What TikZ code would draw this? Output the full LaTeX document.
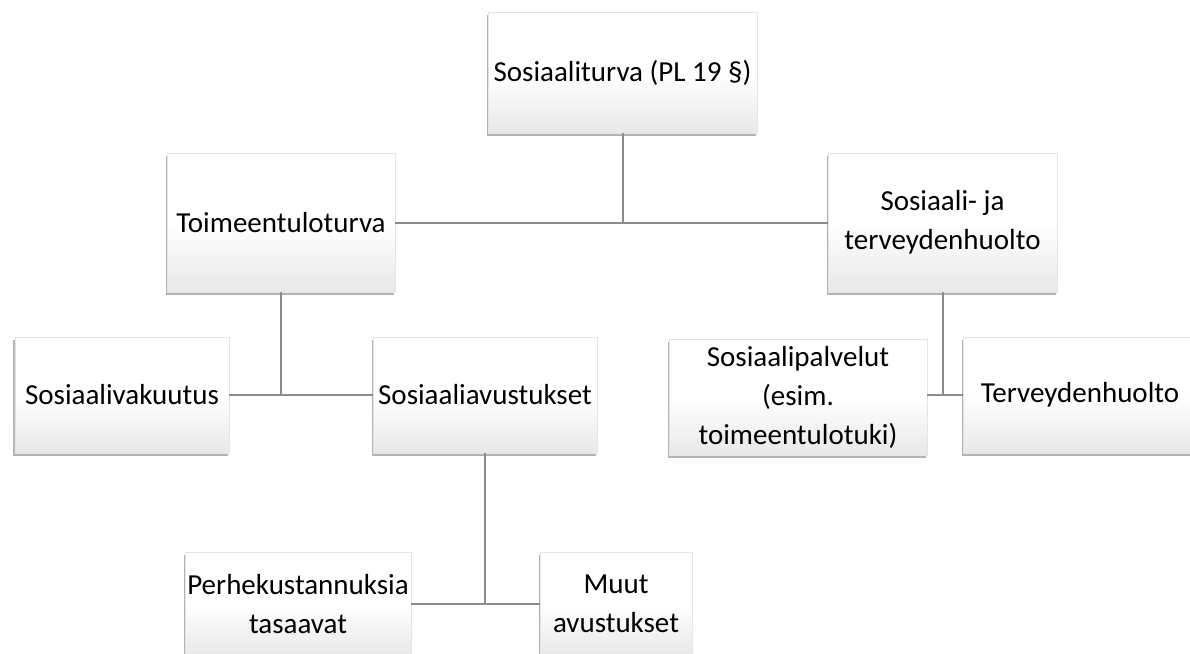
\documentclass[tikz,border=0pt]{standalone}
\usepackage{fontspec}
\setmainfont{Carlito}
\usetikzlibrary{shadows}
\tikzset{
  box/.style={rectangle, inner sep=2bp, align=center,
    draw=black!10, line width=0.4bp,
    top color=white, bottom color=black!9, middle color=white,
    drop shadow={shadow xshift=-1.5bp, shadow yshift=-3bp, opacity=0.3, fill=black},
    font=\fontsize{29bp}{39bp}\selectfont},
  link/.style={draw=black!45, line width=2bp}
}
\begin{document}
\begin{tikzpicture}[x=1bp, y=-1bp]
\useasboundingbox[fill=white] (0,0) rectangle (1190,654);
\node[box, minimum width=269bp, minimum height=121bp] (top) at (622.5,72.5) {Sosiaaliturva (PL 19 §)};
\node[box, minimum width=228bp, minimum height=139bp] (toim) at (281,222.5) {Toimeentuloturva};
\node[box, minimum width=229bp, minimum height=139bp] (sth) at (942.5,222.5) {Sosiaali- ja\\terveydenhuolto};
\node[box, minimum width=214bp, minimum height=116bp] (svak) at (122,395) {Sosiaalivakuutus};
\node[box, minimum width=224bp, minimum height=116bp] (savu) at (485,395) {Sosiaaliavustukset};
\node[box, minimum width=258bp, minimum height=116bp] (spal) at (798,397) {Sosiaalipalvelut\\(esim.\\toimeentulotuki)};
\node[box, minimum width=234bp, minimum height=116bp] (terv) at (1080,395) {Terveydenhuolto};
\node[box, minimum width=222bp, minimum height=104bp] (perhe) at (298,604) {Perhekustannuksia\\tasaavat};
\node[box, minimum width=152bp, minimum height=104bp] (muut) at (616,604) {Muut\\avustukset};
\draw[link] (top.south) -- (top.south |- toim.east);
\draw[link] (toim.east) -- (sth.west);
\draw[link] (toim.south) -- (toim.south |- svak.east);
\draw[link] (svak.east) -- (savu.west);
\draw[link] (sth.south) -- (sth.south |- terv.west);
\draw[link] (spal.east |- terv.west) -- (terv.west);
\draw[link] (savu.south) -- (savu.south |- perhe.east);
\draw[link] (perhe.east) -- (muut.west);
\end{tikzpicture}
\end{document}
